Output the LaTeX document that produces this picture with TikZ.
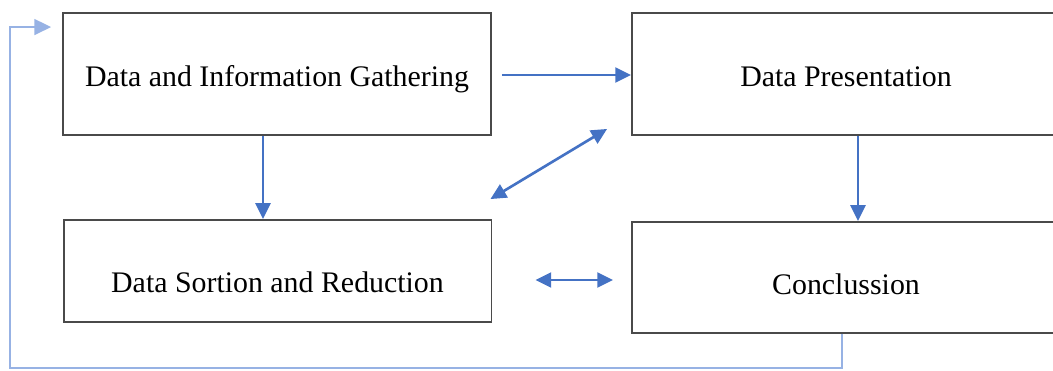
\documentclass[tikz,border=0pt]{standalone}
\usepackage{fontspec}
\setmainfont{Liberation Serif}
\usepackage{xcolor}
\definecolor{cArrow}{HTML}{4472C4}
\definecolor{cBack} {HTML}{97B2E4}
\definecolor{cEdge} {HTML}{4A4A4A}
\usetikzlibrary{arrows.meta, calc}
\tikzset{
  box/.style   = {rectangle, draw=cEdge, line width=1.1pt, inner sep=0pt,
                  minimum width=8.56cm, minimum height=#1,
                  font=\fontsize{17}{20}\selectfont},
  box/.default = 2.44cm,
  lift/.style  = {text height=#1, text depth=0pt},
  tip/.style   = {Triangle[length=9pt,width=8.5pt]},
  arr/.style   = {-{Triangle[length=9pt,width=8.5pt]}, draw=cArrow, line width=1.5pt},
  darr/.style  = {{Triangle[length=9pt,width=8.5pt]}-{Triangle[length=9pt,width=8.5pt]},
                  draw=cArrow, line width=1.5pt},
  back/.style  = {-{Triangle[length=9.5pt,width=9pt]}, draw=cBack, line width=1.2pt},
}

\begin{document}
\begin{tikzpicture}[x=0.02cm, y=0.02cm]

  \clip (0,0) rectangle (1053,370);

  %% Boxes
  \node[box, lift=14.6pt]         (gather)  at (277,296)   {Data and Information Gathering};
  \node[box, lift=14.6pt]         (present) at (846,296)   {Data Presentation};
  \node[box=2.04cm, lift=24.8pt]  (sort)    at (277.5,99)  {Data Sortion and Reduction};
  \node[box=2.22cm, lift=19pt]    (concl)   at (846,92.5)  {Conclussion};

  %% Arrows
  \draw[arr] ($(gather.east)+(10,-1)$) -- ($(present.west)+(0,-1)$);
  \draw[arr] ($(gather.south)+(-14,0)$) -- ($(sort.north)+(-14.5,0)$);
  \draw[arr] ($(present.south)+(12,0)$) -- ($(concl.north)+(12,0)$);
  \draw[darr] ($(sort.north east)+(-2,20)$) -- ($(present.south west)+(-24,7)$);
  \draw[darr] ($(sort.east)+(43,-9)$) -- ($(concl.west)+(-18,-2.5)$);

  %% Feedback loop
  \coordinate (fb) at (10,2);
  \draw[back] ($(concl.south)+(-4,0)$) |- (fb)
              -- ($(fb |- gather.north)+(0,-15)$)
              -- ($(gather.north west)+(-11,-15)$);

\end{tikzpicture}
\end{document}
